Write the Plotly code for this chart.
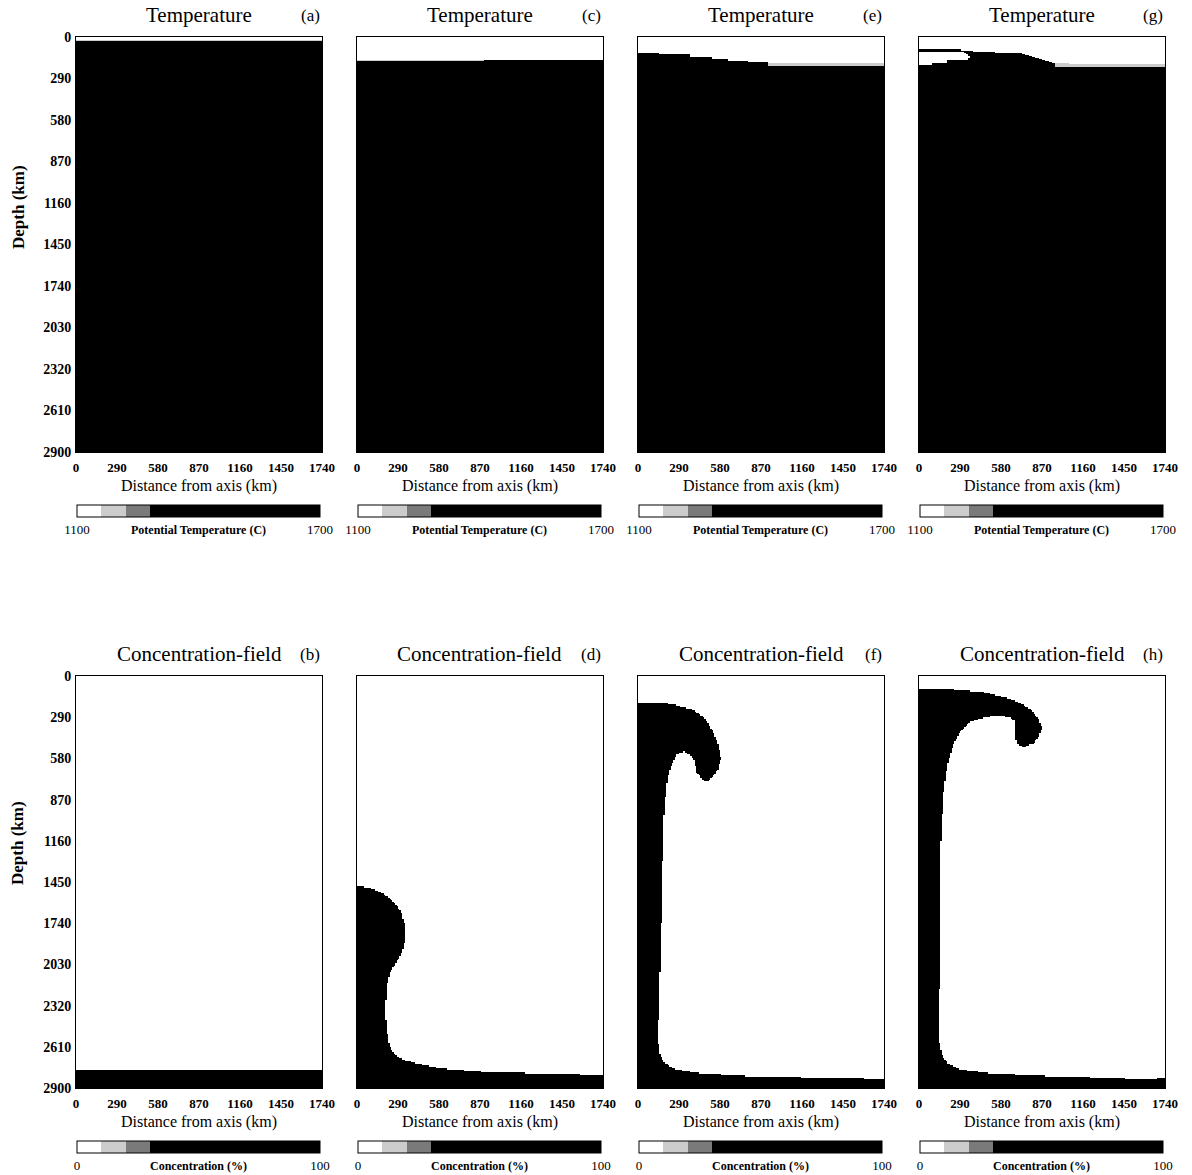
import numpy as np
import plotly.graph_objects as go

# ---------------- data ----------------
x_ticks = [0, 290, 580, 870, 1160, 1450, 1740]
depth_ticks = [0, 290, 580, 870, 1160, 1450, 1740, 2030, 2320, 2610, 2900]

temp_titles = ["Temperature"] * 4
temp_labels = ["(a)", "(c)", "(e)", "(g)"]
conc_titles = ["Concentration-field"] * 4
conc_labels = ["(b)", "(d)", "(f)", "(h)"]

temp_range = [1100, 1700]      # potential temperature (C)
conc_range = [0, 100]          # concentration (%)
temp_hot = 1700
temp_cold = 1100
temp_transition = 1180
conc_full = 100
conc_empty = 0

# temperature: cold (white) top boundary layers, outlines in (distance km, depth km)
temp_a_cold_x = [0, 1740, 1740, 0]
temp_a_cold_depth = [0, 0, 18, 18]
temp_a_band_x = [0, 1740, 1740, 0]
temp_a_band_depth = [18, 18, 28, 28]

temp_c_cold_x = [0, 1740, 1740, 0]
temp_c_cold_depth = [0, 0, 158, 163]
temp_c_band_x = [0, 900, 900, 0]
temp_c_band_depth = [163, 160, 167, 172]

temp_e_cold_x = [0, 1740, 1740, 922, 922, 781, 781, 639, 639, 521, 521, 368, 368, 155, 155, 0]
temp_e_cold_depth = [0, 0, 184, 184, 177, 177, 165, 165, 156, 156, 137, 137, 121, 121, 114, 114]
temp_e_band_x = [922, 1740, 1740, 922]
temp_e_band_depth = [184, 184, 200, 200]

temp_g_cold_x = [0, 1740, 1740, 962, 728, 537, 537, 346, 302, 302, 0]
temp_g_cold_depth = [0, 0, 188, 184, 114, 112, 103, 100, 95, 84, 84]
temp_g_lens_x = [0, 302, 346, 360, 346, 205, 205, 92, 92, 0]
temp_g_lens_depth = [103, 103, 120, 140, 160, 160, 184, 184, 196, 196]
temp_g_band_x = [962, 1740, 1740, 962]
temp_g_band_depth = [184, 188, 212, 208]

# concentration: outline of enriched material (distance km, depth km)
conc_b_x = [0, 1740, 1740, 0]
conc_b_depth = [2775, 2775, 2900, 2900]

conc_d_x = [0, 50, 120, 191, 262, 311, 340, 340, 318, 276, 233, 212, 205, 205, 219,
            248, 283, 346, 417, 580, 912, 1740, 1740, 0]
conc_d_depth = [1485, 1485, 1500, 1534, 1591, 1661, 1753, 1858, 1943, 2020, 2083, 2175,
                2281, 2421, 2562, 2640, 2675, 2706, 2726, 2760, 2788, 2809, 2900, 2900]

conc_f_x = [0, 181, 258, 387, 464, 528, 567, 587, 567, 528, 490, 451, 413, 400, 374, 323,
            272, 233, 207, 194, 181, 176, 170, 149, 141, 156, 191, 262, 438, 792, 1740,
            1740, 0]
conc_f_depth = [190, 190, 202, 238, 288, 385, 482, 580, 652, 712, 748, 724, 675, 604, 555,
                532, 555, 630, 730, 860, 1040, 1250, 1577, 2282, 2563, 2669, 2725, 2768,
                2796, 2817, 2838, 2900, 2900]

conc_h_x = [0, 202, 459, 613, 716, 793, 845, 871, 845, 806, 742, 691, 678, 678, 639, 562,
            459, 356, 292, 240, 202, 176, 163, 150, 148, 141, 163, 205, 290, 502, 927, 1422,
            1563, 1634, 1740, 1740, 0]
conc_h_depth = [90, 90, 115, 152, 190, 240, 302, 365, 427, 477, 500, 477, 415, 315, 290,
                278, 290, 328, 390, 490, 620, 800, 1000, 1260, 1930, 2563, 2669, 2725, 2768,
                2796, 2817, 2831, 2845, 2838, 2831, 2900, 2900]

temp_panels = [
    [(temp_cold, temp_a_cold_x, temp_a_cold_depth), (temp_transition, temp_a_band_x, temp_a_band_depth)],
    [(temp_cold, temp_c_cold_x, temp_c_cold_depth), (temp_transition, temp_c_band_x, temp_c_band_depth)],
    [(temp_cold, temp_e_cold_x, temp_e_cold_depth), (temp_transition, temp_e_band_x, temp_e_band_depth)],
    [(temp_cold, temp_g_cold_x, temp_g_cold_depth), (temp_cold, temp_g_lens_x, temp_g_lens_depth),
     (temp_transition, temp_g_band_x, temp_g_band_depth)],
]
conc_panels = [
    [(conc_full, conc_b_x, conc_b_depth)],
    [(conc_full, conc_d_x, conc_d_depth)],
    [(conc_full, conc_f_x, conc_f_depth)],
    [(conc_full, conc_h_x, conc_h_depth)],
]

# ---------------- rasterisation helpers ----------------
def inside(px, py, poly_x, poly_y):
    res = np.zeros(px.shape, dtype=bool)
    n = len(poly_x)
    j = n - 1
    for i in range(n):
        xi, yi = poly_x[i], poly_y[i]
        xj, yj = poly_x[j], poly_y[j]
        crosses = (yi > py) != (yj > py)
        denom = (yj - yi) if (yj - yi) != 0 else 1e-9
        xint = (xj - xi) * (py - yi) / denom + xi
        res ^= crosses & (px < xint)
        j = i
    return res


def raster(x_edges, d_edges, background, polys):
    xc = (x_edges[:-1] + x_edges[1:]) / 2
    dc = (d_edges[:-1] + d_edges[1:]) / 2
    PX, PY = np.meshgrid(xc, dc)
    z = np.full(PX.shape, background, dtype=int)
    for val, xs, ds in polys:
        z[inside(PX, PY, xs, ds)] = val
    return z.tolist()


x_edges = np.arange(0, 1741, 10, dtype=float)
temp_d_edges = np.concatenate([np.arange(0, 300, 3), np.arange(300, 2901, 100)]).astype(float)
conc_d_edges = np.arange(0, 2901, 10, dtype=float)

# ---------------- layout geometry ----------------
W, H = 1192, 1175
FONT = "Liberation Serif"
panel_left = [76, 357, 638, 919]
panel_w = 246
rows = [(37, 452), (676, 1088)]

cscale = [[0, "#ffffff"], [0.1, "#ffffff"], [0.1, "#cccccc"], [0.2, "#cccccc"],
          [0.2, "#7a7a7a"], [0.3, "#7a7a7a"], [0.3, "#000000"], [1, "#000000"]]

fig = go.Figure()
layout = dict(width=W, height=H,
              margin=dict(l=0, r=0, t=0, b=0, pad=0, autoexpand=False),
              paper_bgcolor="white", plot_bgcolor="white", showlegend=False)
annotations = []

k = 0
for r, (top, bot) in enumerate(rows):
    for c in range(4):
        k += 1
        ax = "" if k == 1 else str(k)
        left = panel_left[c]
        if r == 0:
            z = raster(x_edges, temp_d_edges, temp_hot, temp_panels[c])
            d_edges = temp_d_edges
            rng = temp_range
            title, label = temp_titles[c], temp_labels[c]
            cb_title = "Potential Temperature (C)"
        else:
            z = raster(x_edges, conc_d_edges, conc_empty, conc_panels[c])
            d_edges = conc_d_edges
            rng = conc_range
            title, label = conc_titles[c], conc_labels[c]
            cb_title = "Concentration (%)"

        fig.add_trace(go.Heatmap(x=x_edges.tolist(), y=d_edges.tolist(), z=z,
                                 coloraxis="coloraxis" + ax, xaxis="x" + ax, yaxis="y" + ax,
                                 hoverinfo="skip"))

        cb_top = 505 if r == 0 else 1141
        layout["coloraxis" + ax] = dict(
            cmin=rng[0], cmax=rng[1], colorscale=cscale,
            colorbar=dict(orientation="h", x=(left + 1 + 121.5) / W, xanchor="center",
                          y=1 - cb_top / H, yanchor="top", len=243 / W, lenmode="fraction",
                          thickness=12, thicknessmode="pixels", xpad=0, ypad=0,
                          outlinewidth=1, outlinecolor="black",
                          tickvals=rng, ticktext=[str(v) for v in rng], ticks="",
                          tickfont=dict(family=FONT, size=13, color="black")))

        layout["xaxis" + ax] = dict(
            domain=[left / W, (left + panel_w) / W], anchor="y" + ax, automargin=False,
            range=[0, 1740], tickvals=x_ticks, ticktext=[str(v) for v in x_ticks],
            ticks="", showline=True, mirror=True, linecolor="black", linewidth=1,
            showgrid=False, zeroline=False, ticklabelstandoff=3,
            tickfont=dict(family=FONT, size=13, color="black", weight="bold"))
        layout["yaxis" + ax] = dict(
            domain=[1 - bot / H, 1 - top / H], anchor="x" + ax, automargin=False,
            range=[2900, 0], tickvals=depth_ticks, ticktext=[str(v) for v in depth_ticks],
            showticklabels=(c == 0), ticks="", showline=True, mirror=True,
            linecolor="black", linewidth=1, showgrid=False, zeroline=False,
            ticklabelstandoff=1,
            tickfont=dict(family=FONT, size=14, color="black", weight="bold"))

        cx = left + panel_w / 2
        annotations.append(dict(text=title, x=cx / W, y=1 - (top - 22) / H, xref="paper",
                                yref="paper", xanchor="center", yanchor="middle",
                                showarrow=False, font=dict(family=FONT, size=21, color="black")))
        annotations.append(dict(text=label, x=(left + panel_w) / W, y=1 - (top - 22) / H,
                                xref="paper", yref="paper", xanchor="right", yanchor="middle",
                                showarrow=False, font=dict(family=FONT, size=17, color="black")))
        annotations.append(dict(text="Distance from axis (km)", x=cx / W, y=1 - (bot + 34) / H,
                                xref="paper", yref="paper", xanchor="center", yanchor="middle",
                                showarrow=False, font=dict(family=FONT, size=16, color="black")))
        annotations.append(dict(text=cb_title, x=(left + 122) / W, y=1 - (cb_top + 25) / H,
                                xref="paper", yref="paper", xanchor="center", yanchor="middle",
                                showarrow=False,
                                font=dict(family=FONT, size=12, color="black", weight="bold")))

for yc in (207, 843):
    annotations.append(dict(text="Depth (km)", x=18 / W, y=1 - yc / H, xref="paper",
                            yref="paper", xanchor="center", yanchor="middle", textangle=-90,
                            showarrow=False,
                            font=dict(family=FONT, size=17, color="black", weight="bold")))

layout["annotations"] = annotations
fig.update_layout(**layout)
fig.write_html("out.html")
